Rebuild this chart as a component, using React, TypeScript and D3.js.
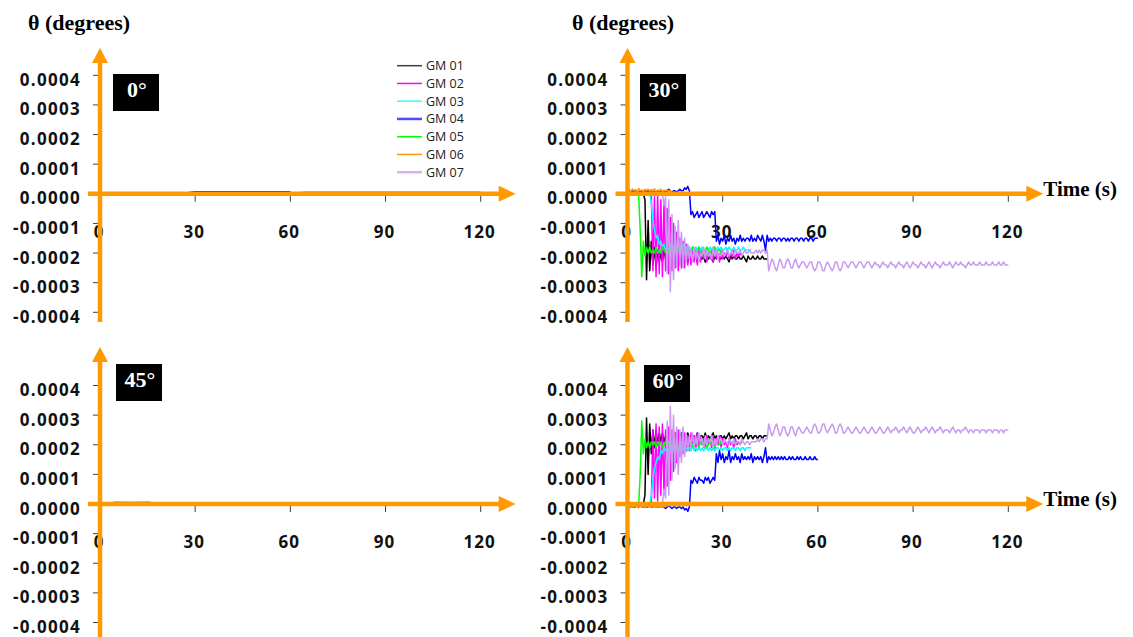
import React from 'react';
import * as d3 from 'd3';

// ---------- data (values in 1e-5 degrees) ----------
const UNIT = 1e-5;
const SERIES_NAMES = ['GM 01', 'GM 02', 'GM 03', 'GM 04', 'GM 05', 'GM 06', 'GM 07'];
const SERIES_COLORS = ['#000000', '#ff00ff', '#00ffff', '#0000ff', '#00ff00', '#ff9900', '#c89bf0'];
const LEGEND_COLORS = ['#404040', '#ff00ff', '#33ffff', '#4b4bff', '#00ff00', '#ff9900', '#d2b4f5'];
const Y_TICKS = [0.0004, 0.0003, 0.0002, 0.0001, 0, -0.0001, -0.0002, -0.0003, -0.0004];
const Y_TICK_LABELS = ['0.0004', '0.0003', '0.0002', '0.0001', '0.0000', '-0.0001', '-0.0002', '-0.0003', '-0.0004'];
const X_TICKS = [0, 30, 60, 90, 120];
const X_TICK_LABELS = ['0', '30', '60', '90', '120'];
const PANEL_LABELS = ['0°', '30°', '45°', '60°'];
const Y_TITLE = 'θ (degrees)';
const X_TITLE = 'Time (s)';
const DT_COARSE = 5; // s, 0° and 45°
const DT_FINE = 0.5; // s, 30° and 60°

// 0° panel
const P0_GM01 = [0, 0, 0, 0, 0, 0, 0, 0, 0, 0];
const P0_GM02 = [0, 0, 0, 0, 0, 0, 0, 0];
const P0_GM03 = [0, 0, 0, 0, 0, 0, 0, 0, 0];
const P0_GM04 = [0, 0, 0, 0, 0, 0, 0.7, 0.7, 0.7, 0.7, 0.7, 0.7, 0.7];
const P0_GM05 = [0, 0, 0, 0, 0, 0, 0];
const P0_GM06 = [0, 0, 0, 0];
const P0_GM07 = [0, 0, 0, 0, 0, 0, 0, 0, 0, 0, 0, 0, 0, 0.7, 0.7, 0.7, 0.7, 0.7, 0.7, 0.7, 0.7, 0.7, 0.7, 0.7, 0.7];

// 45° panel
const P45_GM01 = [0, 0, 0, 0, 0, 0, 0, 0, 0, 0];
const P45_GM02 = [0, 0.6, 0.5, 0.6, 0, 0, 0, 0];
const P45_GM03 = [0, 0, 0, 0, 0, 0, 0, 0, 0];
const P45_GM04 = [0, 0, 0, 0, 0, 0, 0, 0, 0, 0, 0, 0, 0];
const P45_GM05 = [0, 0, 0, 0, 0, 0, 0];
const P45_GM06 = [0, 0, 0, 0];
const P45_GM07 = [0, 0, 0, 0, 0, 0, 0, 0, 0, 0, 0, 0, 0, 0, 0, 0, 0, 0, 0, 0, 0, 0, 0, 0, 0];

// 30° panel (dt 0.5 s)
const P30_GM01 = [
  0, 0, 0, 0, 0, 0, 0, 0, 0, 0, 0,
  -2, -29, -9, -26, -16, -24, -18, -25, -19, -23,
  -20, -23, -19, -22, -21, -23, -20, -22, -21, -23, -21, -22, -20, -23, -21, -22, -21, -23, -21, -22,
  -21, -22, -21, -23, -21, -22, -22, -21, -23, -21, -22, -21, -22, -23, -21, -22, -21, -22, -22, -21,
  -22, -21, -22, -23, -21, -22, -21, -22, -22, -21, -22, -22, -21, -22, -23, -21, -22, -22, -21, -22,
  -22, -21, -22, -22, -21, -22, -22, -22,
];
const P30_GM02 = [
  0, 0, 0, 0, 0, 0, 0, 0, 0, 0, 0, 0, 0, 0, 0, 0,
  -26, -1, -28, 0, -27, -2, -28, -3, -26, -5, -27, -8, -26, -10, -25, -13,
  -26, -15, -25, -16, -25, -17, -24, -18, -24, -18, -23, -19, -24, -19, -23, -19,
  -22, -19, -23, -20, -22, -19, -23, -18, -22, -20, -23, -19, -22, -20, -21, -19,
  -22, -20, -21, -19, -22, -20, -21, -20, -21,
];
const P30_GM03 = [
  0, 0, 0, 0, 0, 0, 0, 0, 0, 0, 0, 0, 0, 0, 0,
  -3, -9, -12, -15, -14, -17, -16, -18, -17, -19,
  -18, -19, -17, -19, -18, -20, -18, -19, -18, -19, -17, -19, -18, -19, -18, -20, -18, -19, -18, -19,
  -18, -19, -18, -19, -19, -18, -19, -18, -19, -18, -19, -19, -18, -19, -18, -19, -19, -18, -19, -18,
  -19, -19, -18, -19, -19, -18, -19, -19, -18, -19, -19, -19, -19, -19,
];
const P30_GM04 = [
  0.5, 1, 0.5, 1, 0.5, 1, 1, 0.5, 1, 0.5, 1, 1, 0.5, 1, 0.5, 1, 1, 0.5, 1, 0.5,
  1, 0.5, 1, 1, 0.5, 1, 1.5, 1, 0.5, 1, 1, 0.5, 1, 1.5, 1, 1, 2, 1.5, 2.5, 1,
  -7, -6, -8, -7, -6, -8, -7, -6, -8, -7, -6, -7, -8, -6, -7, -6,
  -16, -14, -17, -15, -16, -14, -17, -15, -16, -14, -16, -15, -17, -15, -16, -14, -16, -15, -16, -15,
  -15, -16, -14, -16, -15, -16, -14, -15, -16, -14, -16, -19, -14, -16, -15, -16, -15, -15, -16, -15,
  -15, -16, -15, -15, -16, -15, -16, -15, -15, -16, -15, -15, -16, -15, -15, -16, -15, -15, -16, -15, -15, -16, -15, -15, -15,
];
const P30_GM05 = [
  0, 0, 0.5, 0, 0, 0.5, 0, 0,
  -12, -28, -16, -21, -18, -20, -18, -20, -19, -20, -18, -20,
  -19, -20, -18, -19, -20, -18, -20, -19, -18, -20, -19, -20, -18, -19, -20, -19, -18, -20, -19, -19,
  -20, -18, -19, -20, -19, -18, -20, -19, -19, -20, -18, -19, -20, -19, -19, -18, -20, -19, -19, -20, -19,
];
const P30_GM06 = [
  1, 1.5, 0.8, 1.6, 1, 1.4, 0.7, 1.8, 1, 1.3, 0.8, 1.5, 1.1, 1.6, 0.9, 1.4, 1, 1.7, 0.8, 1.3,
  1, 1.5, 0.9, 1.2, 1, 1.4, 0.8, 1.1, 0.6,
];
const P30_GM07 = [
  0, 0, 0, 0.5, 0, 0, 0, 0.5, 0, 0, 0, 0.5, 0, 0, 0, 0, 0.5, 0, 0, 0, 0.5, 0, 0,
  -4, -1, -27, -2, -33, -7, -29, -11, -25, -9, -24, -13, -25, -15, -23, -17, -22,
  -19, -23, -18, -22, -19, -23, -20, -21, -18, -22, -19, -21, -20, -22, -18, -21, -19, -22, -20, -21,
  -19, -21, -20, -19, -21, -20, -19, -21, -19, -20, -20, -19, -21, -20, -19, -20, -20, -19, -20, -20,
  -20, -19, -20, -19, -20, -19, -19, -20, -19,
  -26, -24, -22, -23, -25, -26, -24, -22, -23, -25, -25, -23, -22, -23, -25, -25, -23, -22, -24, -25,
  -24, -23, -23, -24, -25, -24, -23, -23, -25, -26, -25, -23, -23, -24, -26, -26, -24, -23, -24, -25,
  -26, -25, -23, -23, -25, -26, -25, -23, -23, -24, -25, -24, -23, -23, -24, -25, -24, -23, -23, -24,
  -25, -24, -23, -23, -24, -25, -24, -23, -24, -24, -25, -24, -23, -24, -24, -25, -24, -23, -24, -24,
  -25, -24, -23, -24, -24, -25, -24, -23, -24, -25, -24, -23, -24, -24, -25, -24, -23, -24, -24, -25,
  -24, -23, -24, -25, -24, -23, -24, -24, -25, -24, -23, -24, -24, -24, -23, -24, -25, -24, -23, -24,
  -24, -23, -24, -24, -25, -24, -23, -24, -24, -23, -24, -24, -24, -23, -24, -24, -24, -23, -24, -24,
  -24, -23, -24, -24, -24, -23, -24, -24, -23, -24, -24, -24,
];

// 60° panel (dt 0.5 s)
const P60_GM01 = [
  0, 0, 0, 0, 0, 0, 0, 0, 0, 0, 0,
  3, 29, 10, 27, 17, 25, 19, 25, 20, 24,
  21, 24, 21, 23, 22, 24, 21, 23, 22, 24, 22, 23, 21, 24, 22, 23, 22, 24, 22, 23,
  22, 23, 22, 24, 22, 23, 23, 22, 24, 22, 23, 22, 23, 24, 22, 23, 22, 23, 23, 22,
  23, 22, 23, 24, 22, 23, 22, 23, 23, 22, 23, 23, 22, 23, 24, 22, 23, 23, 22, 23,
  23, 22, 23, 23, 22, 23, 23, 23,
];
const P60_GM02 = [
  0, 0, 0, 0, 0, 0, 0, 0, 0, 0, 0, 0, 0, 0, 0, 0,
  25, 2, 27, 1, 26, 3, 27, 4, 25, 6, 26, 8, 25, 11, 24, 14,
  25, 16, 24, 17, 24, 18, 23, 18, 24, 19, 23, 18, 24, 19, 23, 20,
  22, 19, 23, 20, 22, 19, 23, 18, 22, 20, 23, 19, 22, 20, 21, 19,
  22, 20, 21, 19, 22, 20, 21, 20, 21,
];
const P60_GM03 = [
  0, 0, 0, 0, 0, 0, 0, 0, 0, 0, 0, 0, 0, 0, 0,
  3, 8, 12, 14, 16, 15, 18, 17, 19, 18,
  19, 18, 19, 17, 19, 18, 20, 18, 19, 18, 19, 17, 19, 18, 19, 18, 20, 18, 19, 18,
  19, 18, 19, 18, 19, 19, 18, 19, 18, 19, 18, 19, 19, 18, 19, 18, 19, 19, 18, 19,
  18, 19, 19, 18, 19, 19, 18, 19, 19, 18, 19, 19, 19, 19,
];
const P60_GM04 = [
  -1, -0.5, -1, -0.5, -1, -1, -0.5, -1, -0.5, -1, -1, -0.5, -1, -1, -0.5, -1, -1, -0.5, -1, -1,
  -1, -0.5, -1, -1, -1.5, -1, -0.5, -1, -1.5, -1, -1, -1.5, -1, -1, -1.5, -1, -2, -1.5, -2.5, -1,
  8, 7, 9, 8, 7, 9, 8, 8, 7, 9, 8, 9, 7, 8, 9, 8,
  17, 14, 18, 15, 17, 14, 16, 15, 18, 14, 16, 15, 17, 15, 16, 14, 17, 15, 16, 15,
  16, 15, 17, 14, 16, 15, 16, 15, 16, 14, 16, 19, 14, 16, 15, 16, 15, 16, 15, 16,
  15, 16, 15, 16, 15, 15, 16, 15, 16, 15, 15, 16, 15, 16, 15, 15, 16, 15, 15, 16, 15, 15, 16, 15, 15,
];
const P60_GM05 = [
  0, 0, 0, -0.5, 0, 0, 0, -0.5,
  10, 28, 17, 22, 19, 21, 19, 21, 20, 21, 19, 21,
  20, 21, 19, 20, 21, 19, 21, 20, 19, 21, 20, 21, 19, 20, 21, 20, 19, 21, 20, 20,
  21, 19, 20, 21, 20, 19, 21, 20, 20, 21, 19, 20, 21, 20, 20, 19, 21, 20, 20, 21, 20,
];
const P60_GM06 = [
  -0.5, -1, -0.8, -1.2, -0.6, -1, -0.8, -1.3, -0.7, -1, -0.9, -1.2, -0.6, -1, -0.8, -1.1,
  -0.7, -1, -0.9, -1.2, -0.6, -1, -0.8, -1, -0.5,
];
const P60_GM07 = [
  0, 0, 0, 0, 0, 0, -0.5, 0, 0, -0.5, 0, 0, -0.5, 0, 0, 0, -0.5, 0, 0, -0.5, 0, 0, 0,
  5, 2, 28, 3, 33, 8, 30, 12, 26, 10, 25, 14, 26, 16, 24, 18, 23,
  20, 24, 19, 23, 20, 24, 21, 22, 19, 23, 20, 22, 21, 23, 19, 22, 20, 23, 21, 22,
  20, 22, 21, 20, 22, 21, 20, 22, 20, 21, 21, 20, 22, 21, 20, 21, 21, 20, 21, 21,
  21, 21, 22, 21, 22, 22, 21, 22, 22,
  27, 25, 23, 24, 26, 27, 25, 23, 24, 26, 26, 24, 23, 24, 26, 26, 24, 23, 25, 26,
  25, 24, 24, 25, 26, 25, 24, 24, 26, 27, 26, 24, 24, 25, 27, 27, 25, 24, 25, 26,
  27, 26, 24, 24, 26, 27, 26, 24, 24, 25, 26, 25, 24, 24, 25, 26, 25, 24, 24, 25,
  26, 25, 24, 24, 25, 26, 25, 24, 24, 25, 26, 25, 24, 24, 25, 26, 25, 24, 25, 25,
  26, 25, 24, 25, 25, 26, 25, 24, 25, 26, 25, 24, 24, 25, 26, 25, 24, 25, 25, 26,
  25, 24, 25, 26, 25, 24, 25, 25, 26, 25, 24, 25, 25, 25, 24, 25, 26, 25, 24, 25,
  25, 24, 25, 25, 26, 25, 24, 25, 25, 24, 25, 25, 25, 24, 25, 25, 25, 24, 25, 25,
  25, 24, 25, 25, 25, 24, 25, 25, 24, 25, 25, 25,
];

const P0 = [P0_GM01, P0_GM02, P0_GM03, P0_GM04, P0_GM05, P0_GM06, P0_GM07];
const P30 = [P30_GM01, P30_GM02, P30_GM03, P30_GM04, P30_GM05, P30_GM06, P30_GM07];
const P45 = [P45_GM01, P45_GM02, P45_GM03, P45_GM04, P45_GM05, P45_GM06, P45_GM07];
const P60 = [P60_GM01, P60_GM02, P60_GM03, P60_GM04, P60_GM05, P60_GM06, P60_GM07];

// ---------- layout ----------
const W = 1133;
const H = 637;
const ORANGE = '#ff9900';
const TICK_FONT = "'Open Sans', 'DejaVu Sans', sans-serif";
const SERIF = "'Liberation Serif', 'Times New Roman', serif";

const PANELS = [
  { label: PANEL_LABELS[0], data: P0, dt: DT_COARSE, xr: [100, 480.7], yr: [312.3, 75.3], yTop: 48, yBot: 322, box: [113, 74], legend: true, time: false, title: [28, 30] },
  { label: PANEL_LABELS[1], data: P30, dt: DT_FINE, xr: [627.5, 1008.3], yr: [312.3, 75.3], yTop: 48, yBot: 322, box: [640, 74], legend: false, time: true, title: [572, 30] },
  { label: PANEL_LABELS[2], data: P45, dt: DT_COARSE, xr: [100, 480.7], yr: [622.5, 385.5], yTop: 347, yBot: 640, box: [116, 364], legend: false, time: false, title: null },
  { label: PANEL_LABELS[3], data: P60, dt: DT_FINE, xr: [627.5, 1008.3], yr: [622.5, 385.5], yTop: 347, yBot: 640, box: [644, 365], legend: false, time: true, title: null },
];

function Panel({ p }: { p: any }) {
  const xs = d3.scaleLinear().domain([0, 120]).range(p.xr);
  const ys = d3.scaleLinear().domain([-0.0004, 0.0004]).range(p.yr);
  const ax = xs(0);
  const ay = ys(0);
  const xEnd = xs(120) + 35;
  const line = (dt: number) =>
    d3.line<number>().x((_, i) => xs(i * dt)).y((v) => ys(v * UNIT));
  return (
    <g>
      {/* y tick labels */}
      {Y_TICKS.map((t, i) => (
        <text key={'yl' + i} x={ax - 19} y={ys(t) + 10.5} textAnchor="end" fontFamily={TICK_FONT}
          fontWeight={700} fontSize={17} letterSpacing={1.3} fill="#111">{Y_TICK_LABELS[i]}</text>
      ))}
      {Y_TICKS.map((t, i) => (
        <line key={'yt' + i} x1={ax - 7} x2={ax} y1={ys(t)} y2={ys(t)} stroke="#404040" strokeWidth={1} />
      ))}
      {/* x tick labels */}
      {X_TICKS.map((t, i) => (
        <text key={'xl' + i} x={xs(t) - 1} y={ay + 44} textAnchor="middle" fontFamily={TICK_FONT}
          fontWeight={700} fontSize={17} letterSpacing={1} fill="#111">{X_TICK_LABELS[i]}</text>
      ))}
      {X_TICKS.slice(1).map((t, i) => (
        <line key={'xt' + i} x1={xs(t)} x2={xs(t)} y1={ay} y2={ay + 8} stroke="#404040" strokeWidth={1} />
      ))}
      {/* data */}
      {p.data.map((s: number[], k: number) => (
        <path key={'s' + k} d={line(p.dt)(s) || ''} fill="none" stroke={SERIES_COLORS[k]}
          strokeWidth={1.5} strokeLinejoin="round" />
      ))}
      {/* axes */}
      <line x1={ax} x2={ax} y1={p.yBot} y2={p.yTop + 12} stroke={ORANGE} strokeWidth={4.5} />
      <polygon points={`${ax},${p.yTop} ${ax - 8},${p.yTop + 15} ${ax + 8},${p.yTop + 15}`} fill={ORANGE} />
      <line x1={ax - 12} x2={xEnd - 12} y1={ay} y2={ay} stroke={ORANGE} strokeWidth={4.5} />
      <polygon points={`${xEnd},${ay} ${xEnd - 17},${ay - 8} ${xEnd - 17},${ay + 8}`} fill={ORANGE} />
      {/* panel label */}
      <rect x={p.box[0]} y={p.box[1]} width={46} height={37} fill="#000" />
      <text x={p.box[0] + 24} y={p.box[1] + 23} textAnchor="middle" fontFamily={SERIF} fontWeight={700}
        fontSize={22} fill="#fff">{p.label}</text>
      {p.title && (
        <text x={p.title[0]} y={p.title[1]} fontFamily={SERIF} fontWeight={700} fontSize={22} fill="#000">{Y_TITLE}</text>
      )}
      {p.time && (
        <text x={xEnd} y={ay + 2} fontFamily={SERIF} fontWeight={700} fontSize={21} fill="#000">{X_TITLE}</text>
      )}
      {p.legend && (
        <g>
          {SERIES_NAMES.map((n, k) => {
            const ly = 65.7 + k * 17.75;
            return (
              <g key={'lg' + k}>
                <line x1={397} x2={422} y1={ly} y2={ly} stroke={LEGEND_COLORS[k]}
                  strokeWidth={k === 3 || k === 6 ? 2.5 : 1.5} />
                <text x={426} y={ly + 4.5} fontFamily={TICK_FONT} fontSize={12.5} fill="#222">{n}</text>
              </g>
            );
          })}
        </g>
      )}
    </g>
  );
}

export default function App() {
  return (
    <svg width={W} height={H} style={{ position: 'absolute', left: 0, top: 0, display: 'block', background: '#fff' }}>
      <rect x={0} y={0} width={W} height={H} fill="#fff" />
      {PANELS.map((p, i) => (
        <Panel key={i} p={p} />
      ))}
    </svg>
  );
}
